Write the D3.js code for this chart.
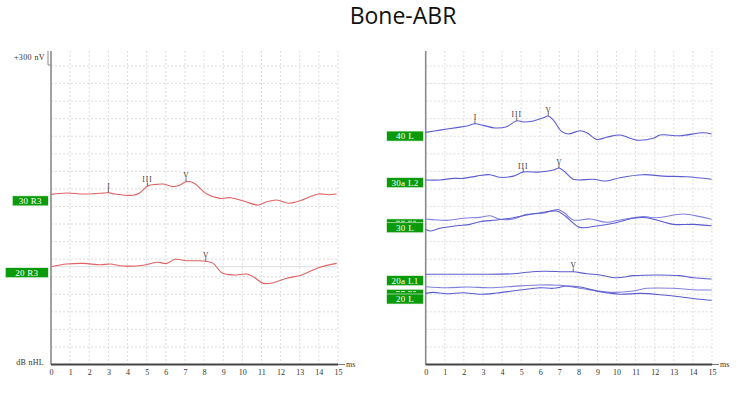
<!DOCTYPE html>
<html>
<head>
<meta charset="utf-8">
<script src="https://cdn.jsdelivr.net/npm/d3@7"></script>
<style>
  html, body { margin: 0; padding: 0; background: #fff; }
  svg { display: block; }
</style>
</head>
<body>
<svg id="chart" width="748" height="398"></svg>
<script>
// ---------------- DATA ----------------
const title = "Bone-ABR";
const msTicks = [0,1,2,3,4,5,6,7,8,9,10,11,12,13,14,15];
const divRows = [1,2,3,4,5,6,7,8,9,10,11,12,13,14,15,16,17];

// Left panel (right ear, red). [ms, amplitude in grid divisions]
const trace30R3 = [[0,9.69],[0.82,9.77],[1.69,9.71],[2.56,9.75],[3.0,9.78],[3.35,9.71],[4.3,9.64],[4.65,9.78],[5.05,10.17],[5.53,10.26],[5.87,10.28],[6.39,10.13],[6.74,10.22],[7.06,10.41],[7.44,10.35],[8.14,9.71],[8.83,9.46],[9.36,9.50],[9.88,9.37],[10.23,9.25],[10.84,9.08],[11.28,9.27],[11.8,9.37],[12.4,9.18],[13.02,9.33],[13.97,9.71],[14.5,9.67],[14.93,9.71]];
const trace20R3 = [[0,5.57],[0.82,5.72],[1.69,5.76],[2.56,5.68],[3.08,5.72],[3.78,5.61],[4.82,5.65],[5.52,5.82],[6.05,5.76],[6.48,5.99],[7.09,5.91],[7.62,5.91],[8.09,5.88],[8.48,5.76],[8.92,5.23],[9.53,5.10],[10.23,5.15],[10.57,5.00],[11.1,4.62],[11.62,4.66],[12.32,4.91],[13.1,5.10],[14.06,5.54],[14.93,5.76]];
const baseline20R3 = 5.57;

// Right panel (left ear, blue)
const trace40L = [[0,13.22],[0.75,13.35],[1.62,13.49],[2.15,13.58],[2.58,13.71],[3.02,13.62],[3.63,13.47],[4.24,13.54],[4.77,13.88],[5.11,13.81],[5.64,13.87],[6.16,14.05],[6.42,14.15],[6.69,13.92],[7.13,13.26],[7.47,13.13],[8.08,13.31],[8.44,13.20],[8.96,12.82],[9.48,12.94],[10.18,13.07],[11.05,12.78],[11.92,12.88],[12.28,13.07],[13.33,13.03],[14.54,13.20],[14.98,13.13]];
const trace30aL2 = [[0,10.51],[0.75,10.51],[1.45,10.60],[1.97,10.60],[2.67,10.73],[3.37,10.81],[3.89,10.66],[4.59,10.73],[5.11,10.96],[5.99,10.96],[6.69,11.08],[6.98,11.19],[7.29,10.98],[7.73,10.55],[8.78,10.55],[9.48,10.45],[10.18,10.64],[11.4,10.81],[12.45,10.73],[13.67,10.69],[14.98,10.55]];
const trace30L_a = [[0,8.29],[1.10,8.21],[1.97,8.33],[2.84,8.38],[3.37,8.47],[3.89,8.27],[4.59,8.29],[5.29,8.55],[6.16,8.61],[6.60,8.76],[6.95,8.82],[7.30,8.61],[7.73,8.23],[8.61,8.29],[9.48,8.10],[10.18,8.23],[11.40,8.42],[12.10,8.36],[13.50,8.57],[14.37,8.42],[14.98,8.27]];
const trace30L_b = [[0,7.70],[0.23,7.60],[0.75,7.76],[1.62,7.90],[2.32,7.98],[2.84,8.13],[3.72,8.23],[4.59,8.36],[5.29,8.51],[6.16,8.67],[6.86,8.74],[7.30,8.47],[8.08,7.81],[8.96,7.89],[9.83,8.04],[10.88,8.33],[11.58,8.36],[12.28,8.17],[12.97,7.98],[14.02,7.98],[14.98,7.90]];
const trace20aL1 = [[0,5.14],[1.10,5.14],[2.84,5.14],[4.59,5.17],[5.29,5.25],[6.16,5.31],[7.21,5.28],[7.73,5.28],[8.44,5.17],[9.13,5.10],[10.01,4.94],[10.88,5.06],[12.10,5.10],[13.32,5.06],[14.02,4.94],[14.98,4.87]];
const trace20L_a = [[0,4.43],[1.10,4.37],[2.15,4.41],[3.37,4.37],[4.59,4.45],[5.99,4.53],[7.04,4.51],[8.08,4.34],[8.96,4.19],[9.83,4.11],[10.88,4.19],[11.58,4.34],[12.97,4.34],[14.02,4.26],[14.98,4.24]];
const trace20L_b = [[0,4.05],[0.40,4.11],[1.10,4.03],[1.97,4.09],[2.84,4.00],[3.72,4.07],[4.94,4.24],[5.99,4.37],[6.69,4.34],[7.39,4.47],[8.08,4.41],[9.13,4.15],[10.18,4.00],[11.23,4.05],[12.45,3.96],[13.32,3.86],[14.20,3.73],[14.98,3.66]];

// Peak markers: [trace name, label, latency ms]
const markers = [
  ["30R3","I",3.0],["30R3","III",5.05],["30R3","V",7.06],
  ["20R3","V",8.09],
  ["40L","I",2.58],["40L","III",4.77],["40L","V",6.42],
  ["30aL2","III",5.11],["30aL2","V",6.98],
  ["20aL1","V",7.73]
];

// Trace labels (green tags)
const leftLabels  = ["30 R3","20 R3"];
const rightLabels = ["40 L","30a L2","30 L","20a L1","20 L"];

// ---------------- LAYOUT ----------------
const svg = d3.select("#chart");
const serif = "'Liberation Serif','DejaVu Serif',serif";
const xL = d3.scaleLinear().domain([0,15]).range([51,338]);
const xR = d3.scaleLinear().domain([0,15]).range([425.7,712]);
const y  = d3.scaleLinear().domain([0,17]).range([364.5,66]);
const panelTop = 51;

const red = "#e06262", blue = "#5c5cd0", blueLight = "#8080dc";

svg.append("text").attr("x",403).attr("y",24).attr("text-anchor","middle")
  .attr("font-family","'Open Sans','Noto Sans',sans-serif").attr("font-size",23)
  .attr("fill","#111").text(title);

function panel(x) {
  const g = svg.append("g");
  g.selectAll(".vg").data(msTicks.slice(1)).join("line")
    .attr("x1",d=>x(d)).attr("x2",d=>x(d)).attr("y1",panelTop).attr("y2",y(0))
    .attr("stroke","#d4d4d4").attr("stroke-width",0.8).attr("stroke-dasharray","2,2");
  g.selectAll(".hg").data(divRows).join("line")
    .attr("x1",x(0)).attr("x2",x(15)).attr("y1",d=>y(d)).attr("y2",d=>y(d))
    .attr("stroke","#d4d4d4").attr("stroke-width",0.8).attr("stroke-dasharray","2,2");
  g.append("line").attr("x1",x(0)).attr("x2",x(0)).attr("y1",panelTop).attr("y2",y(0))
    .attr("stroke","#8a8a8a").attr("stroke-width",1.6);
  g.append("line").attr("x1",x(0)).attr("x2",x(15)+7).attr("y1",y(0)).attr("y2",y(0))
    .attr("stroke","#555").attr("stroke-width",0.8);
  g.append("line").attr("x1",x(0)).attr("x2",x(15)).attr("y1",y(0)).attr("y2",y(0))
    .attr("stroke","#444").attr("stroke-width",2);
  const ax = g.append("g").attr("transform",`translate(0,${y(0)+2})`)
    .call(d3.axisBottom(x).tickValues(msTicks).tickSize(0).tickPadding(3).tickFormat(d3.format("d")));
  ax.select(".domain").remove();
  ax.selectAll("text").attr("font-family",serif).attr("font-size",8).attr("fill","#333");
  g.append("text").attr("x",x(15)+8).attr("y",y(0)+2.5).attr("font-family",serif)
    .attr("font-size",8).attr("fill","#333").text("ms");
  return g;
}
const gL = panel(xL);
const gR = panel(xR);

svg.append("text").attr("x",45).attr("y",60).attr("text-anchor","end").attr("font-family",serif)
  .attr("font-size",8).attr("letter-spacing",0.4).attr("fill","#333").text("+300 nV");
svg.append("path").attr("d",`M${xL(0)-3},${panelTop}V${panelTop+14}H${xL(0)}`)
  .attr("fill","none").attr("stroke","#8a8a8a").attr("stroke-width",1);
svg.append("text").attr("x",44).attr("y",y(0)).attr("text-anchor","end").attr("font-family",serif)
  .attr("font-size",8).attr("letter-spacing",0.3).attr("fill","#333").text("dB nHL");

gL.append("line").attr("x1",xL(0)).attr("x2",xL(15)).attr("y1",y(baseline20R3)).attr("y2",y(baseline20R3))
  .attr("stroke","#dedede").attr("stroke-width",1);

function drawTrace(g, x, data, color, w) {
  const line = d3.line().x(d=>x(d[0])).y(d=>y(d[1])).curve(d3.curveCatmullRom.alpha(0.5));
  g.append("path").datum(data).attr("d",line).attr("fill","none")
    .attr("stroke",color).attr("stroke-width",w||1.1);
}
drawTrace(gL,xL,trace30R3,red);
drawTrace(gL,xL,trace20R3,red);
drawTrace(gR,xR,trace40L,blue);
drawTrace(gR,xR,trace30aL2,blue);
drawTrace(gR,xR,trace30L_a,blueLight);
drawTrace(gR,xR,trace30L_b,blue);
drawTrace(gR,xR,trace20aL1,blue);
drawTrace(gR,xR,trace20L_a,blueLight);
drawTrace(gR,xR,trace20L_b,blue);

const traceMap = {
  "30R3":[trace30R3,xL], "20R3":[trace20R3,xL],
  "40L":[trace40L,xR], "30aL2":[trace30aL2,xR], "20aL1":[trace20aL1,xR]
};
function valueAt(data, t) {
  for (let i=1;i<data.length;i++) {
    if (t <= data[i][0]) {
      const a=data[i-1], b=data[i];
      return a[1] + (b[1]-a[1])*(t-a[0])/(b[0]-a[0]);
    }
  }
  return data[data.length-1][1];
}
markers.forEach(([name,lab,t])=>{
  const [data,x] = traceMap[name];
  const px = x(t), py = y(valueAt(data,t));
  svg.append("line").attr("x1",px).attr("x2",px).attr("y1",py-3.5).attr("y2",py)
    .attr("stroke","#444").attr("stroke-width",0.8);
  svg.append("text").attr("x",px).attr("y",py-3.5).attr("text-anchor","middle")
    .attr("font-family",serif).attr("font-size",7.5).attr("letter-spacing",lab.length>1?1:0)
    .attr("fill","#333").text(lab);
});

// green tags
function tagBox(xRight, top, width) {
  svg.append("rect").attr("x",xRight-width).attr("y",top).attr("width",width).attr("height",10)
    .attr("fill","#0a9a0a").attr("stroke","#e8f5e8").attr("stroke-width",0.6);
}
function tag(xRight, top, width, text) {
  tagBox(xRight, top, width);
  svg.append("text").attr("x",xRight-width/2).attr("y",top+8).attr("text-anchor","middle")
    .attr("font-family",serif).attr("font-size",9).attr("letter-spacing",0.3)
    .attr("fill","#fff").text(text);
}
// a tag mostly hidden behind the one drawn over it: only the tops of its glyphs show
function hiddenTag(xRight, top, width) {
  tagBox(xRight, top, width);
  const cx = xRight - width/2;
  [[-9,-5],[-4,0],[3,7],[8,11]].forEach(([a,b])=>{
    svg.append("line").attr("x1",cx+a).attr("x2",cx+b).attr("y1",top+2.3).attr("y2",top+2.3)
      .attr("stroke","#cfe9cf").attr("stroke-width",0.9);
  });
}
tag(48.3, y(trace30R3[0][1])+1.5, 36, leftLabels[0]);
tag(48.3, y(trace20R3[0][1])+1, 43, leftLabels[1]);
tag(423.3, y(trace40L[0][1])-1.3, 36.6, rightLabels[0]);
tag(423.3, y(trace30aL2[0][1])-2.3, 36.6, rightLabels[1]);
hiddenTag(423.3, y(trace30L_a[0][1]), 36.6);
tag(423.3, y(trace30L_a[0][1])+3.8, 36.6, rightLabels[2]);
tag(423.3, y(trace20aL1[0][1])+1.4, 36.6, rightLabels[3]);
hiddenTag(423.3, y(trace20L_a[0][1])+2.6, 36.6);
tag(423.3, y(trace20L_a[0][1])+7.3, 36.6, rightLabels[4]);
</script>
</body>
</html>
